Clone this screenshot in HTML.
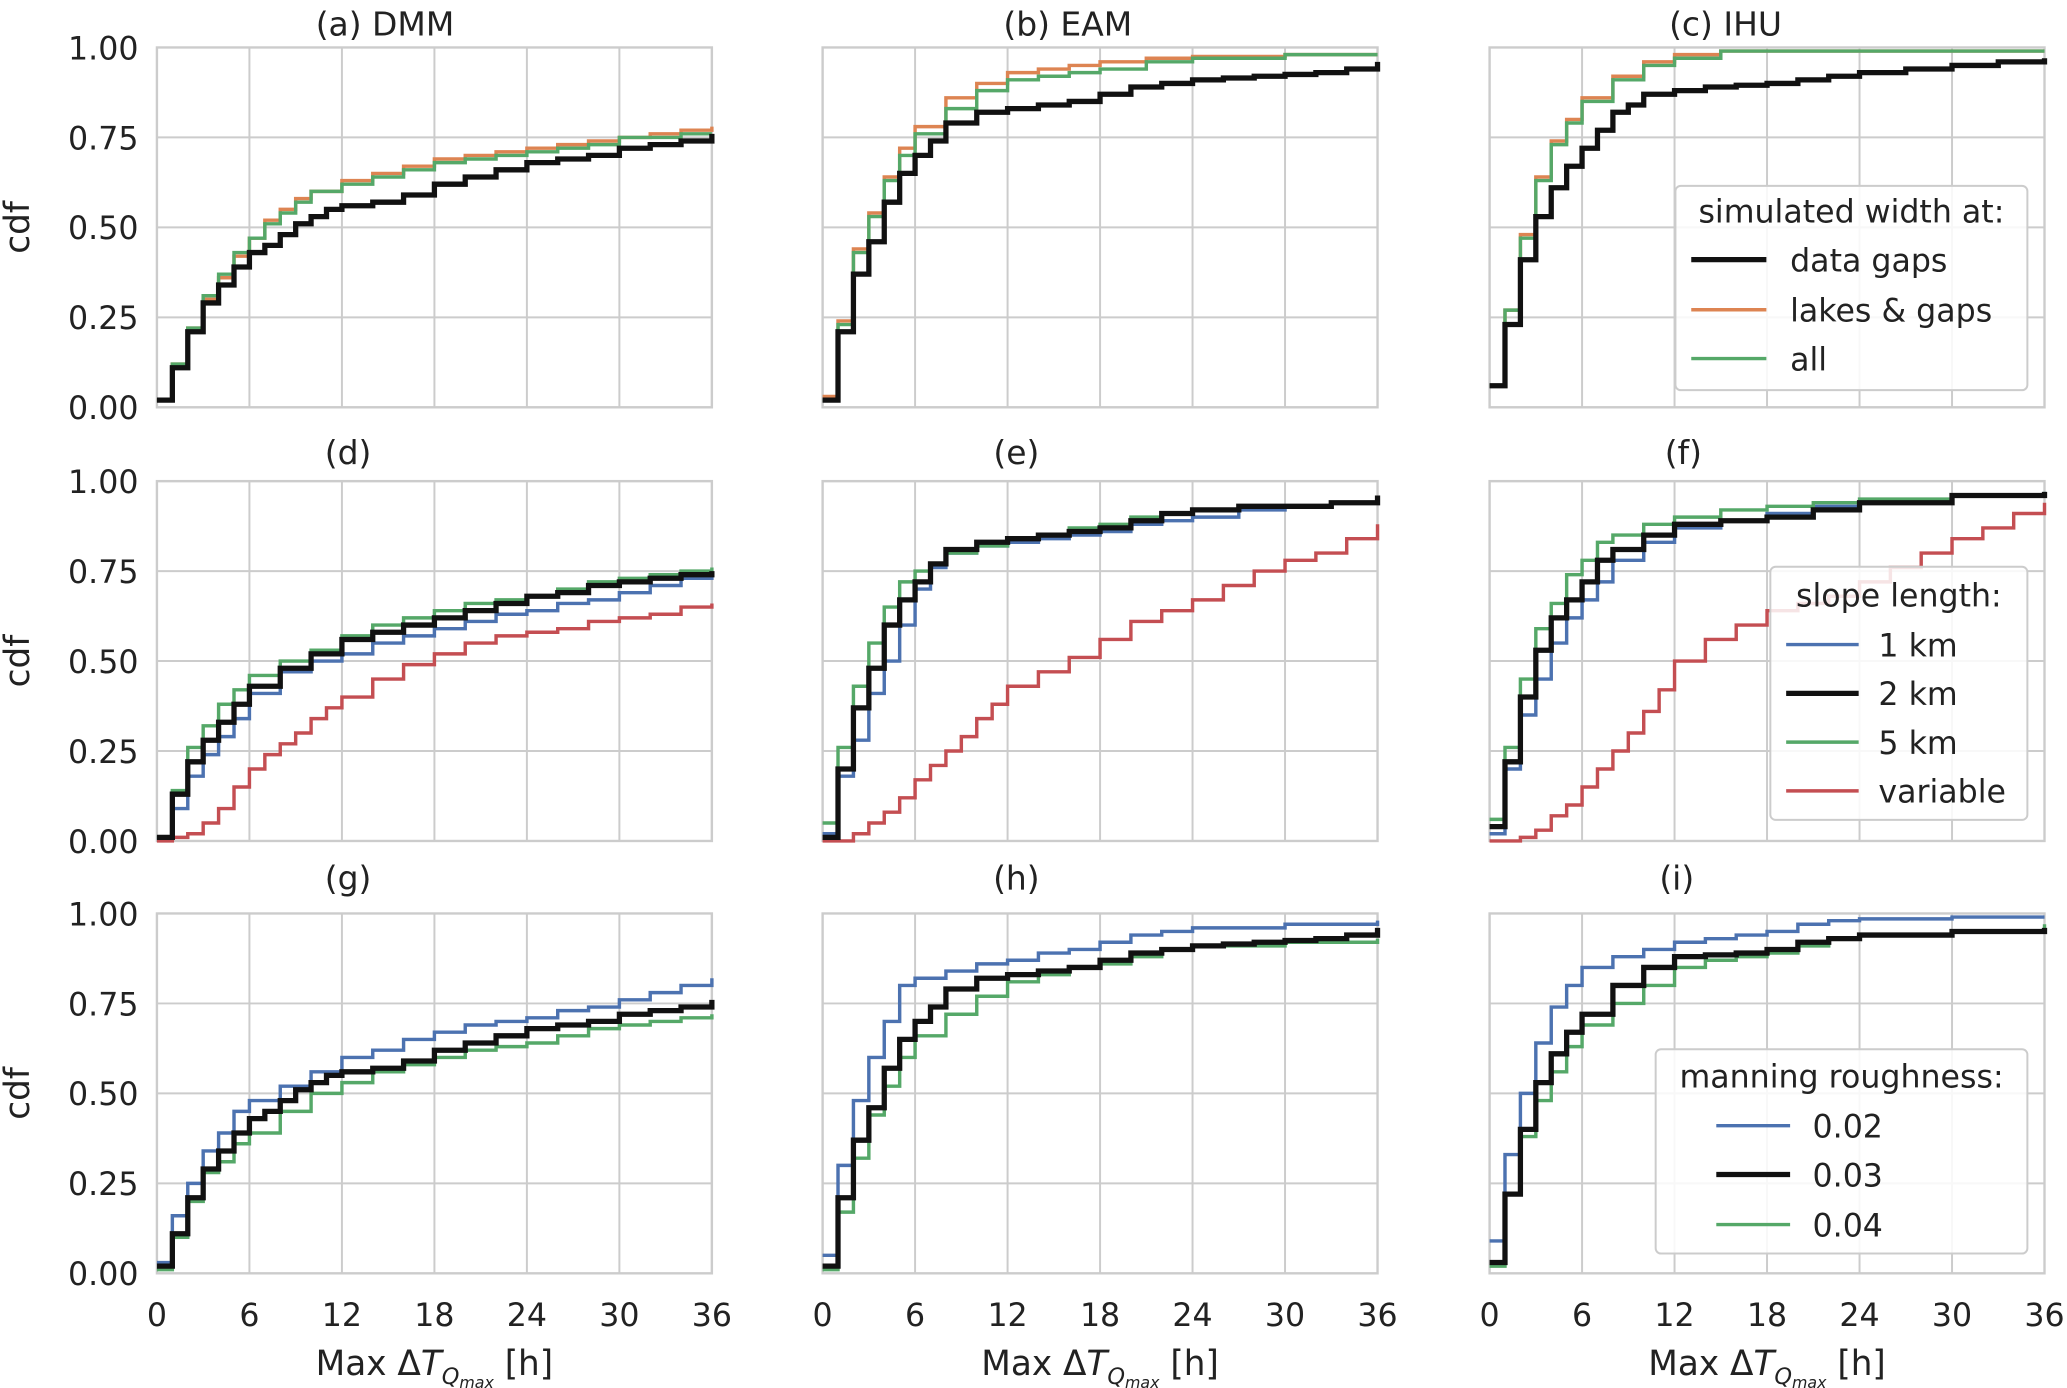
<!DOCTYPE html>
<html><head><meta charset="utf-8"><style>
html,body{margin:0;padding:0;background:#fff;}
svg{display:block;font-family:"DejaVu Sans","Liberation Sans",sans-serif;}
</style></head><body>
<svg id="fig" width="2067" height="1388" viewBox="0 0 1568 1053" xmlns="http://www.w3.org/2000/svg"></svg>
<script>
const NS='http://www.w3.org/2000/svg';
const xTicks=[0,6,12,18,24,30,36];
const yTicks=[0,0.25,0.5,0.75,1.0];
const yTickLabels=['0.00','0.25','0.50','0.75','1.00'];
const titles=['(a) DMM','(b) EAM','(c)  IHU','(d)','(e)','(f)','(g)','(h)','(i)'];
const titleX=[292,810,1309,264,771,1277,264,771,1272];
const C={blue:'#4c72b0',orange:'#dd8452',green:'#55a868',red:'#c44e52',black:'#111111'};

// panel a
const aBlackX=[0,1,2,3,4,5,6,7,8,9,10,11,12,14,16,18,20,22,24,26,28,30,32,34,36];
const aBlackY=[0.02,0.11,0.21,0.29,0.34,0.39,0.43,0.45,0.48,0.51,0.53,0.55,0.56,0.57,0.59,0.62,0.64,0.66,0.68,0.69,0.70,0.72,0.73,0.74,0.76];
const aOrangeX=[0,1,2,3,4,5,6,7,8,9,10,12,14,16,18,20,22,24,26,28,30,32,34,36];
const aOrangeY=[0.02,0.12,0.22,0.30,0.36,0.42,0.47,0.52,0.55,0.58,0.60,0.63,0.65,0.67,0.69,0.70,0.71,0.72,0.73,0.74,0.75,0.76,0.77,0.78];
const aGreenX=[0,1,2,3,4,5,6,7,8,9,10,12,14,16,18,20,22,24,26,28,30,32,34,36];
const aGreenY=[0.02,0.12,0.22,0.31,0.37,0.43,0.47,0.51,0.54,0.57,0.60,0.62,0.64,0.66,0.68,0.69,0.70,0.71,0.72,0.73,0.75,0.75,0.76,0.76];
// panel b
const bBlackX=[0,1,2,3,4,5,6,7,8,10,12,14,16,18,20,22,24,26,28,30,32,34,36];
const bBlackY=[0.02,0.21,0.37,0.46,0.57,0.65,0.70,0.74,0.79,0.82,0.83,0.84,0.85,0.87,0.89,0.90,0.91,0.915,0.92,0.925,0.93,0.94,0.96];
const bOrangeX=[0,1,2,3,4,5,6,8,10,12,14,16,18,21,24,30,36];
const bOrangeY=[0.03,0.24,0.44,0.54,0.64,0.72,0.78,0.86,0.90,0.93,0.94,0.95,0.96,0.97,0.975,0.98,0.98];
const bGreenX=[0,1,2,3,4,5,6,8,10,12,14,16,18,21,24,30,36];
const bGreenY=[0.02,0.23,0.43,0.53,0.63,0.70,0.76,0.83,0.88,0.91,0.92,0.93,0.94,0.96,0.97,0.98,0.98];
// panel c
const cBlackX=[0,1,2,3,4,5,6,7,8,9,10,12,14,16,18,20,22,24,27,30,33,36];
const cBlackY=[0.06,0.23,0.41,0.53,0.61,0.67,0.72,0.77,0.82,0.84,0.87,0.88,0.89,0.895,0.90,0.91,0.92,0.93,0.94,0.95,0.96,0.97];
const cOrangeX=[0,1,2,3,4,5,6,8,10,12,15,36];
const cOrangeY=[0.06,0.27,0.48,0.64,0.74,0.80,0.86,0.92,0.96,0.98,0.99,0.99];
const cGreenX=[0,1,2,3,4,5,6,8,10,12,15,36];
const cGreenY=[0.06,0.27,0.47,0.63,0.73,0.79,0.85,0.91,0.95,0.97,0.99,0.99];
// panel d
const dBlueX=[0,1,2,3,4,5,6,8,10,12,14,16,18,20,22,24,26,28,30,32,34,36];
const dBlueY=[0.01,0.09,0.18,0.24,0.29,0.34,0.41,0.47,0.50,0.52,0.55,0.57,0.59,0.61,0.63,0.64,0.66,0.67,0.69,0.71,0.73,0.75];
const dBlackX=[0,1,2,3,4,5,6,8,10,12,14,16,18,20,22,24,26,28,30,32,34,36];
const dBlackY=[0.01,0.13,0.22,0.28,0.33,0.38,0.43,0.48,0.52,0.56,0.58,0.60,0.62,0.64,0.66,0.68,0.69,0.71,0.72,0.73,0.74,0.75];
const dGreenX=[0,1,2,3,4,5,6,8,10,12,14,16,18,20,22,24,26,28,30,32,34,36];
const dGreenY=[0.01,0.14,0.26,0.32,0.38,0.42,0.46,0.50,0.53,0.57,0.60,0.62,0.64,0.66,0.67,0.68,0.70,0.72,0.73,0.74,0.75,0.76];
const dRedX=[0,1,2,3,4,5,6,7,8,9,10,11,12,14,16,18,20,22,24,26,28,30,32,34,36];
const dRedY=[0,0.01,0.02,0.05,0.09,0.15,0.20,0.24,0.27,0.30,0.34,0.37,0.40,0.45,0.49,0.52,0.55,0.57,0.58,0.59,0.61,0.62,0.63,0.65,0.66];
// panel e
const eBlueX=[0,1,2,3,4,5,6,7,8,10,12,14,16,18,20,22,24,27,30,33,36];
const eBlueY=[0.02,0.18,0.28,0.41,0.50,0.60,0.70,0.76,0.80,0.82,0.83,0.84,0.85,0.86,0.88,0.89,0.90,0.92,0.93,0.94,0.96];
const eBlackX=[0,1,2,3,4,5,6,7,8,10,12,14,16,18,20,22,24,27,30,33,36];
const eBlackY=[0.01,0.20,0.37,0.48,0.60,0.67,0.72,0.77,0.81,0.83,0.84,0.85,0.86,0.87,0.89,0.91,0.92,0.93,0.93,0.94,0.96];
const eGreenX=[0,1,2,3,4,5,6,7,8,10,12,14,16,18,20,22,24,27,30,33,36];
const eGreenY=[0.05,0.26,0.43,0.55,0.65,0.72,0.75,0.77,0.80,0.82,0.84,0.85,0.87,0.88,0.90,0.91,0.92,0.93,0.93,0.94,0.95];
const eRedX=[0,1,2,3,4,5,6,7,8,9,10,11,12,14,16,18,20,22,24,26,28,30,32,34,36];
const eRedY=[0,0,0.02,0.05,0.08,0.12,0.17,0.21,0.25,0.29,0.34,0.38,0.43,0.47,0.51,0.56,0.61,0.64,0.67,0.71,0.75,0.78,0.80,0.84,0.88];
// panel f
const fBlueX=[0,1,2,3,4,5,6,7,8,10,12,15,18,21,24,30,36];
const fBlueY=[0.02,0.20,0.35,0.45,0.55,0.62,0.67,0.72,0.78,0.83,0.87,0.89,0.91,0.93,0.94,0.96,0.97];
const fBlackX=[0,1,2,3,4,5,6,7,8,10,12,15,18,21,24,30,36];
const fBlackY=[0.04,0.22,0.40,0.53,0.62,0.67,0.72,0.78,0.81,0.85,0.88,0.89,0.90,0.92,0.94,0.96,0.97];
const fGreenX=[0,1,2,3,4,5,6,7,8,10,12,15,18,21,24,30,36];
const fGreenY=[0.06,0.26,0.45,0.59,0.66,0.74,0.78,0.83,0.85,0.88,0.90,0.92,0.93,0.94,0.95,0.96,0.97];
const fRedX=[0,1,2,3,4,5,6,7,8,9,10,11,12,14,16,18,20,22,24,26,28,30,32,34,36];
const fRedY=[0,0,0.01,0.03,0.07,0.10,0.15,0.20,0.25,0.30,0.36,0.42,0.50,0.56,0.60,0.64,0.66,0.68,0.72,0.76,0.80,0.84,0.87,0.91,0.94];
// panel g
const gBlueX=[0,1,2,3,4,5,6,8,10,12,14,16,18,20,22,24,26,28,30,32,34,36];
const gBlueY=[0.03,0.16,0.25,0.34,0.39,0.45,0.48,0.52,0.56,0.60,0.62,0.65,0.67,0.69,0.70,0.71,0.73,0.74,0.76,0.78,0.80,0.82];
const gBlackX=[0,1,2,3,4,5,6,7,8,9,10,11,12,14,16,18,20,22,24,26,28,30,32,34,36];
const gBlackY=[0.02,0.11,0.21,0.29,0.34,0.39,0.43,0.45,0.48,0.51,0.53,0.55,0.56,0.57,0.59,0.62,0.64,0.66,0.68,0.69,0.70,0.72,0.73,0.74,0.76];
const gGreenX=[0,1,2,3,4,5,6,8,10,12,14,16,18,20,22,24,26,28,30,32,34,36];
const gGreenY=[0.01,0.10,0.20,0.28,0.31,0.36,0.39,0.45,0.50,0.53,0.56,0.58,0.60,0.62,0.63,0.64,0.66,0.68,0.69,0.70,0.71,0.72];
// panel h
const hBlueX=[0,1,2,3,4,5,6,8,10,12,14,16,18,20,22,24,30,36];
const hBlueY=[0.05,0.30,0.48,0.60,0.70,0.80,0.82,0.84,0.86,0.87,0.89,0.90,0.92,0.94,0.95,0.96,0.97,0.98];
const hBlackX=[0,1,2,3,4,5,6,7,8,10,12,14,16,18,20,22,24,26,28,30,32,34,36];
const hBlackY=[0.02,0.21,0.37,0.46,0.57,0.65,0.70,0.74,0.79,0.82,0.83,0.84,0.85,0.87,0.89,0.90,0.91,0.915,0.92,0.925,0.93,0.94,0.96];
const hGreenX=[0,1,2,3,4,5,6,8,10,12,14,16,18,20,22,24,30,36];
const hGreenY=[0.01,0.17,0.32,0.44,0.52,0.60,0.66,0.72,0.77,0.81,0.83,0.85,0.86,0.88,0.90,0.91,0.92,0.93];
// panel i
const iBlueX=[0,1,2,3,4,5,6,8,10,12,14,16,18,20,22,24,30,36];
const iBlueY=[0.09,0.33,0.50,0.64,0.74,0.80,0.85,0.88,0.90,0.92,0.93,0.94,0.95,0.97,0.98,0.985,0.99,0.99];
const iBlackX=[0,1,2,3,4,5,6,8,10,12,14,16,18,20,22,24,30,36];
const iBlackY=[0.03,0.22,0.40,0.53,0.61,0.67,0.72,0.80,0.85,0.88,0.885,0.89,0.90,0.92,0.93,0.94,0.95,0.96];
const iGreenX=[0,1,2,3,4,5,6,8,10,12,14,16,18,20,22,24,30,36];
const iGreenY=[0.02,0.22,0.38,0.48,0.56,0.63,0.69,0.75,0.80,0.85,0.87,0.88,0.89,0.91,0.93,0.94,0.95,0.97];

const panels=[
 [['orange',aOrangeX,aOrangeY],['green',aGreenX,aGreenY],['black',aBlackX,aBlackY]],
 [['orange',bOrangeX,bOrangeY],['green',bGreenX,bGreenY],['black',bBlackX,bBlackY]],
 [['orange',cOrangeX,cOrangeY],['green',cGreenX,cGreenY],['black',cBlackX,cBlackY]],
 [['red',dRedX,dRedY],['blue',dBlueX,dBlueY],['green',dGreenX,dGreenY],['black',dBlackX,dBlackY]],
 [['red',eRedX,eRedY],['blue',eBlueX,eBlueY],['green',eGreenX,eGreenY],['black',eBlackX,eBlackY]],
 [['red',fRedX,fRedY],['blue',fBlueX,fBlueY],['green',fGreenX,fGreenY],['black',fBlackX,fBlackY]],
 [['blue',gBlueX,gBlueY],['green',gGreenX,gGreenY],['black',gBlackX,gBlackY]],
 [['blue',hBlueX,hBlueY],['green',hGreenX,hGreenY],['black',hBlackX,hBlackY]],
 [['blue',iBlueX,iBlueY],['green',iGreenX,iGreenY],['black',iBlackX,iBlackY]]
];
const colL=[119,624,1130], colW=421;
const rowT=[36,365,693], rowH=273;
const titleY=[27,352,675];
const svg=document.getElementById('fig');
function el(tag,attrs,parent){const e=document.createElementNS(NS,tag);for(const k in attrs)e.setAttribute(k,attrs[k]);(parent||svg).appendChild(e);return e;}

for(let p=0;p<9;p++){
  const c=p%3,r=Math.floor(p/3);
  const L=colL[c],T=rowT[r];
  const sx=v=>L+v/36*colW, sy=v=>T+rowH-v*rowH;
  const g=el('g',{});
  
  
  xTicks.forEach(t=>{const l=el('line',{x1:sx(t),x2:sx(t),y1:T,y2:T+rowH,stroke:'#cccccc','stroke-width':1.5},g);
    });
  yTicks.forEach(t=>{const l=el('line',{x1:L,x2:L+colW,y1:sy(t),y2:sy(t),stroke:'#cccccc','stroke-width':1.5},g);
    });
  const fr=el('rect',{x:L,y:T,width:colW,height:rowH,fill:'none',stroke:'#cccccc','stroke-width':1.8},g);
  
  const tt=el('text',{x:titleX[p],y:titleY[r],'text-anchor':'middle','font-size':25,fill:'#222'},g);
  tt.textContent=titles[p];
  
  if(c===0){
    yTicks.forEach((t,i)=>{const tx=el('text',{x:L-14,y:sy(t)+9,'text-anchor':'end','font-size':24,fill:'#222'},g);
      tx.textContent=yTickLabels[i];});
    const yl=el('text',{x:0,y:0,transform:`translate(${L-97},${T+rowH/2}) rotate(-90)`,'text-anchor':'middle','font-size':26,fill:'#222'},g);
    yl.textContent='cdf';
  }
  if(r===2){
    xTicks.forEach(t=>{const tx=el('text',{x:sx(t),y:T+rowH+40,'text-anchor':'middle','font-size':24,fill:'#222'},g);
      tx.textContent=String(t);});
    const xl=el('text',{x:L+colW/2,y:T+rowH+77,'text-anchor':'middle','font-size':26,fill:'#222'},g);
    xl.innerHTML='Max Δ<tspan font-style="italic">T</tspan><tspan font-size="17" font-style="italic" dy="7">Q</tspan><tspan font-size="12" font-style="italic" dy="3">max</tspan><tspan dy="-10"> [h]</tspan>';
    
  }
  panels[p].forEach(([col,xs,ys])=>{
    let d='M'+sx(xs[0])+','+sy(ys[0]);
    for(let i=1;i<xs.length;i++){d+=' H'+sx(xs[i])+' V'+sy(ys[i]);}
    const path=el('path',{d:d,fill:'none',stroke:C[col],'stroke-width':col==='black'?4:2.6},g);
    
    
  });
}

function legend(x,y,w,h,title,items,lx1,lx2,tx,ys,ty){
  const g=el('g',{});
  
  
  const b=el('rect',{x:x,y:y,width:w,height:h,rx:4,fill:'#fff','fill-opacity':0.85,stroke:'#cccccc','stroke-width':1.5},g);
  
  const t=el('text',{x:x+w/2,y:ty,'text-anchor':'middle','font-size':24,fill:'#222'},g);
  t.textContent=title;
  items.forEach(([col,lab],i)=>{
    const l=el('line',{x1:lx1,x2:lx2,y1:ys[i],y2:ys[i],stroke:C[col],'stroke-width':col==='black'?4:2.6},g);
    
    const tt=el('text',{x:tx,y:ys[i]+9,'font-size':24,fill:'#222'},g);
    tt.textContent=lab;
  });
}
legend(1271,141,267,155,'simulated width at:',[['black','data gaps'],['orange','lakes & gaps'],['green','all']],1283,1340,1358,[197,235,272],169);
legend(1343,430,195,192,'slope length:',[['blue','1 km'],['black','2 km'],['green','5 km'],['red','variable']],1355,1410,1425,[489,526,563,600],460);
legend(1256,796,282,155,'manning roughness:',[['blue','0.02'],['black','0.03'],['green','0.04']],1302,1358,1375,[854,891,929],825);
</script>
</body></html>
